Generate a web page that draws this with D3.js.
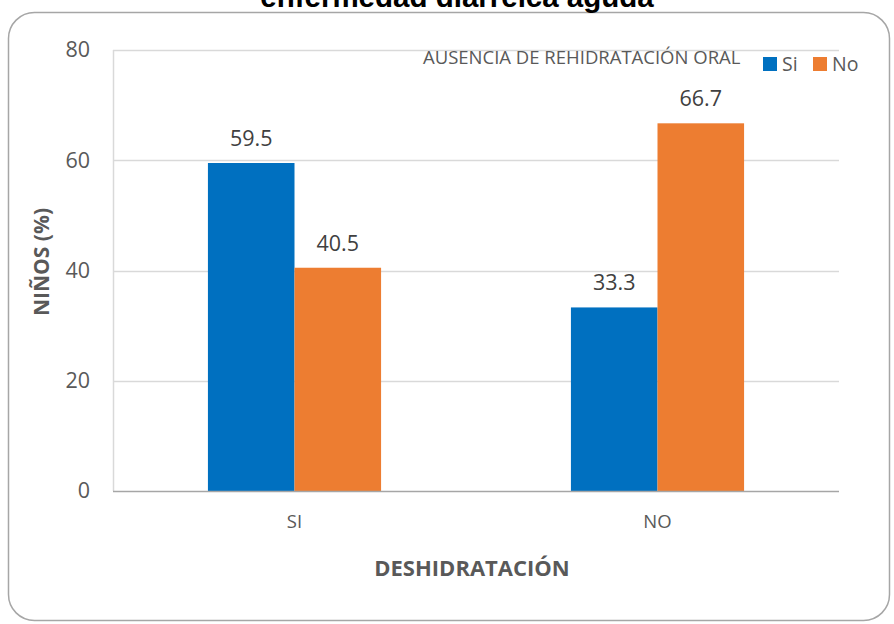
<!DOCTYPE html>
<html>
<head>
<meta charset="utf-8">
<script src="https://cdn.jsdelivr.net/npm/d3@7"></script>
<style>
  html, body { margin: 0; padding: 0; background: #fff; }
  svg { display: block; }
</style>
</head>
<body>
<svg id="chart" width="894" height="624"></svg>
<script>
// Categories and series
const categories = ["SI", "NO"];
const seriesNames = ["Si", "No"];
const seriesSi = [59.5, 33.3];
const seriesNo = [40.5, 66.7];
const yTicks = [0, 20, 40, 60, 80];
const seriesColors = ["#0070C0", "#ED7D31"];

const titleText = "enfermedad diarreica aguda";
const legendTitle = "AUSENCIA DE REHIDRATACIÓN ORAL";
const yTitle = "NIÑOS (%)";
const xTitle = "DESHIDRATACIÓN";

const rows = categories.map((c, i) => ({ cat: c, values: [seriesSi[i], seriesNo[i]] }));

const svg = d3.select("#chart");
const plot = { left: 113, right: 839, top: 50, bottom: 491 };
const font = "'Open Sans', sans-serif";

// Chart frame with rounded corners
svg.append("rect")
  .attr("x", 8.5).attr("y", 12.5)
  .attr("width", 881).attr("height", 608)
  .attr("rx", 26).attr("ry", 26)
  .attr("fill", "#fff")
  .attr("stroke", "#a6a6a6").attr("stroke-width", 1.5);

// Title (runs above the frame)
svg.append("text")
  .attr("x", 457).attr("y", 7)
  .attr("text-anchor", "middle")
  .attr("font-family", "'Liberation Sans', Arial, sans-serif")
  .attr("font-weight", "bold")
  .attr("font-size", 29.5)
  .attr("fill", "#000")
  .text(titleText);

// Scales
const x0 = d3.scaleBand().domain(categories).range([plot.left, plot.right]).padding(0);
const groupW = x0.bandwidth() * 0.477;
const x1 = d3.scaleBand().domain(seriesNames).range([0, groupW]).padding(0);
const y = d3.scaleLinear().domain([0, 80]).range([plot.bottom, plot.top]);

// Gridlines
svg.append("g")
  .selectAll("line")
  .data(yTicks.filter(t => t > 0))
  .join("line")
  .attr("x1", plot.left).attr("x2", plot.right)
  .attr("y1", d => Math.round(y(d)) + 0.5).attr("y2", d => Math.round(y(d)) + 0.5)
  .attr("stroke", "#d9d9d9").attr("stroke-width", 1.5);

// Left plot edge
svg.append("line")
  .attr("x1", plot.left + 0.5).attr("x2", plot.left + 0.5)
  .attr("y1", plot.top).attr("y2", plot.bottom)
  .attr("stroke", "#d9d9d9").attr("stroke-width", 1.5);

// Y axis labels
const yAxis = d3.axisLeft(y).tickValues(yTicks).tickSize(0).tickPadding(0);
const gy = svg.append("g").attr("transform", `translate(${plot.left - 23},0)`).call(yAxis);
gy.select(".domain").remove();
gy.selectAll("text")
  .attr("font-family", font).attr("font-size", 21.5).attr("fill", "#595959");

// Bars
const groups = svg.append("g")
  .selectAll("g")
  .data(rows)
  .join("g")
  .attr("transform", d => `translate(${x0(d.cat) + (x0.bandwidth() - groupW) / 2},0)`);

groups.selectAll("rect")
  .data(d => d.values.map((v, i) => ({ key: seriesNames[i], v, i })))
  .join("rect")
  .attr("x", d => x1(d.key))
  .attr("width", x1.bandwidth())
  .attr("y", d => y(d.v))
  .attr("height", d => y(0) - y(d.v))
  .attr("fill", d => seriesColors[d.i]);

// Value labels
groups.selectAll("text")
  .data(d => d.values.map((v, i) => ({ key: seriesNames[i], v, i })))
  .join("text")
  .attr("x", d => x1(d.key) + x1.bandwidth() / 2)
  .attr("y", d => y(d.v) - 17)
  .attr("text-anchor", "middle")
  .attr("font-family", font).attr("font-size", 21.5).attr("fill", "#404040")
  .text(d => d.v.toFixed(1));

// X axis
const xAxis = d3.axisBottom(x0).tickSize(0).tickPadding(0);
const gx = svg.append("g").attr("transform", `translate(0,${plot.bottom})`).call(xAxis);
gx.select(".domain").remove();
gx.selectAll("text")
  .attr("y", 37)
  .attr("dy", 0)
  .attr("font-family", font).attr("font-size", 18.5).attr("fill", "#595959");
svg.append("line")
  .attr("x1", plot.left).attr("x2", plot.right)
  .attr("y1", plot.bottom + 0.5).attr("y2", plot.bottom + 0.5)
  .attr("stroke", "#a6a6a6").attr("stroke-width", 1.5);

// Axis titles
svg.append("text")
  .attr("x", 472).attr("y", 576)
  .attr("text-anchor", "middle")
  .attr("font-family", font).attr("font-weight", "bold")
  .attr("font-size", 22).attr("fill", "#595959")
  .text(xTitle);

svg.append("text")
  .attr("transform", "translate(49,262) rotate(-90)")
  .attr("text-anchor", "middle")
  .attr("font-family", font).attr("font-weight", "bold")
  .attr("font-size", 21).attr("fill", "#595959")
  .text(yTitle);

// Legend
svg.append("text")
  .attr("x", 423).attr("y", 64)
  .attr("font-family", font).attr("font-size", 18.5).attr("fill", "#595959")
  .text(legendTitle);

const legendX = [763, 813];
const lg = svg.append("g").selectAll("g")
  .data(seriesNames)
  .join("g")
  .attr("transform", (d, i) => `translate(${legendX[i]},57)`);
lg.append("rect").attr("width", 14).attr("height", 14)
  .attr("fill", (d, i) => seriesColors[i]);
lg.append("text").attr("x", 19).attr("y", 14)
  .attr("font-family", font).attr("font-size", 19.5).attr("fill", "#595959")
  .text(d => d);
</script>
</body>
</html>
